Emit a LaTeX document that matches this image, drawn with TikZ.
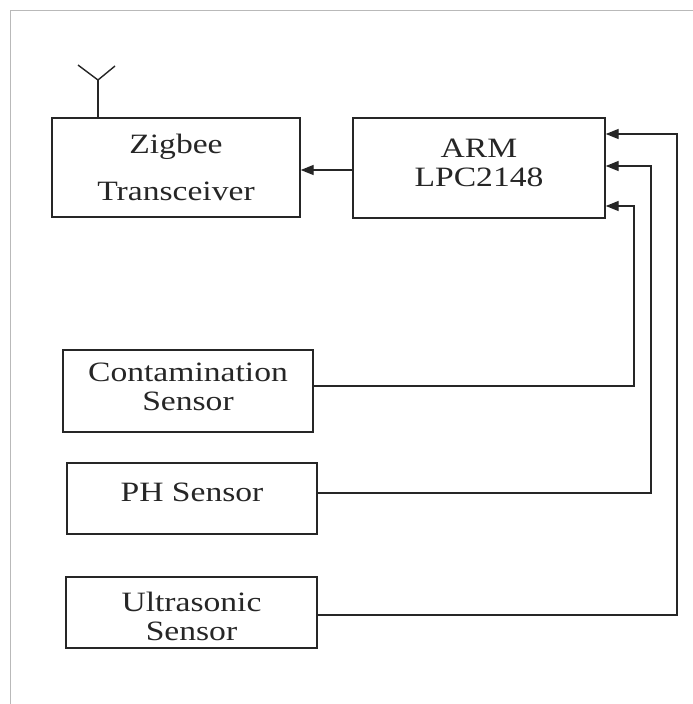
\documentclass[tikz,border=0pt]{standalone}
\usepackage{fontspec}
\setmainfont{Liberation Serif}[FakeStretch=1.2]
\usetikzlibrary{arrows.meta}
\begin{document}
\begin{tikzpicture}[x=1pt,y=-1pt,
  box/.style={draw=black!85, line width=1.4pt, rectangle, inner sep=0pt},
  txt/.style={align=center, inner sep=0pt, font=\fontsize{28}{29}\selectfont, text=black!85},
  conn/.style={draw=black!85, line width=1.4pt},
  arr/.style={conn,-{Triangle[length=13pt,width=10pt]}}]
\useasboundingbox (0,0) rectangle (693,704);
\fill[white] (0,0) rectangle (693,704);
\draw[gray!55, line width=1pt] (10,704) -- (10,10) -- (693,10);

\node[box, minimum width=248pt, minimum height=99pt,
  label={[txt]center:{Zigbee\\[18pt]Transceiver}}] (zig) at (176,167.5) {};
\node[box, minimum width=252pt, minimum height=100pt,
  label={[txt,yshift=5pt]center:{ARM\\LPC2148}}] (arm) at (479,168) {};
\node[box, minimum width=250pt, minimum height=82pt,
  label={[txt,yshift=4.5pt]center:{Contamination\\Sensor}}] (cont) at (188,391) {};
\node[box, minimum width=250pt, minimum height=71pt,
  label={[txt,yshift=6pt]center:{PH Sensor}}] (ph) at (192,498.5) {};
\node[box, minimum width=251pt, minimum height=71pt,
  label={[txt,yshift=-3.5pt]center:{Ultrasonic\\Sensor}}] (ultra) at (191.5,612.5) {};

% antenna
\coordinate (ant) at (98,80);
\coordinate (antl) at (78,65);
\coordinate (antr) at (115,66);
\draw[conn] (zig.north -| ant) -- (ant);
\draw[conn] (antl) -- (ant) -- (antr);

% ARM to Zigbee
\coordinate (j0) at (330,170);
\draw[arr] (arm.west |- j0) -- (zig.east |- j0);

% sensors to ARM
\coordinate (j1) at (634,206);
\coordinate (j2) at (651,166);
\coordinate (j3) at (677,134);
\draw[arr] ([yshift=5pt]cont.east) -| (j1) -- (arm.east |- j1);
\draw[arr] ([yshift=5.5pt]ph.east) -| (j2) -- (arm.east |- j2);
\draw[arr] ([yshift=-2.5pt]ultra.east) -| (j3) -- (arm.east |- j3);
\end{tikzpicture}
\end{document}
